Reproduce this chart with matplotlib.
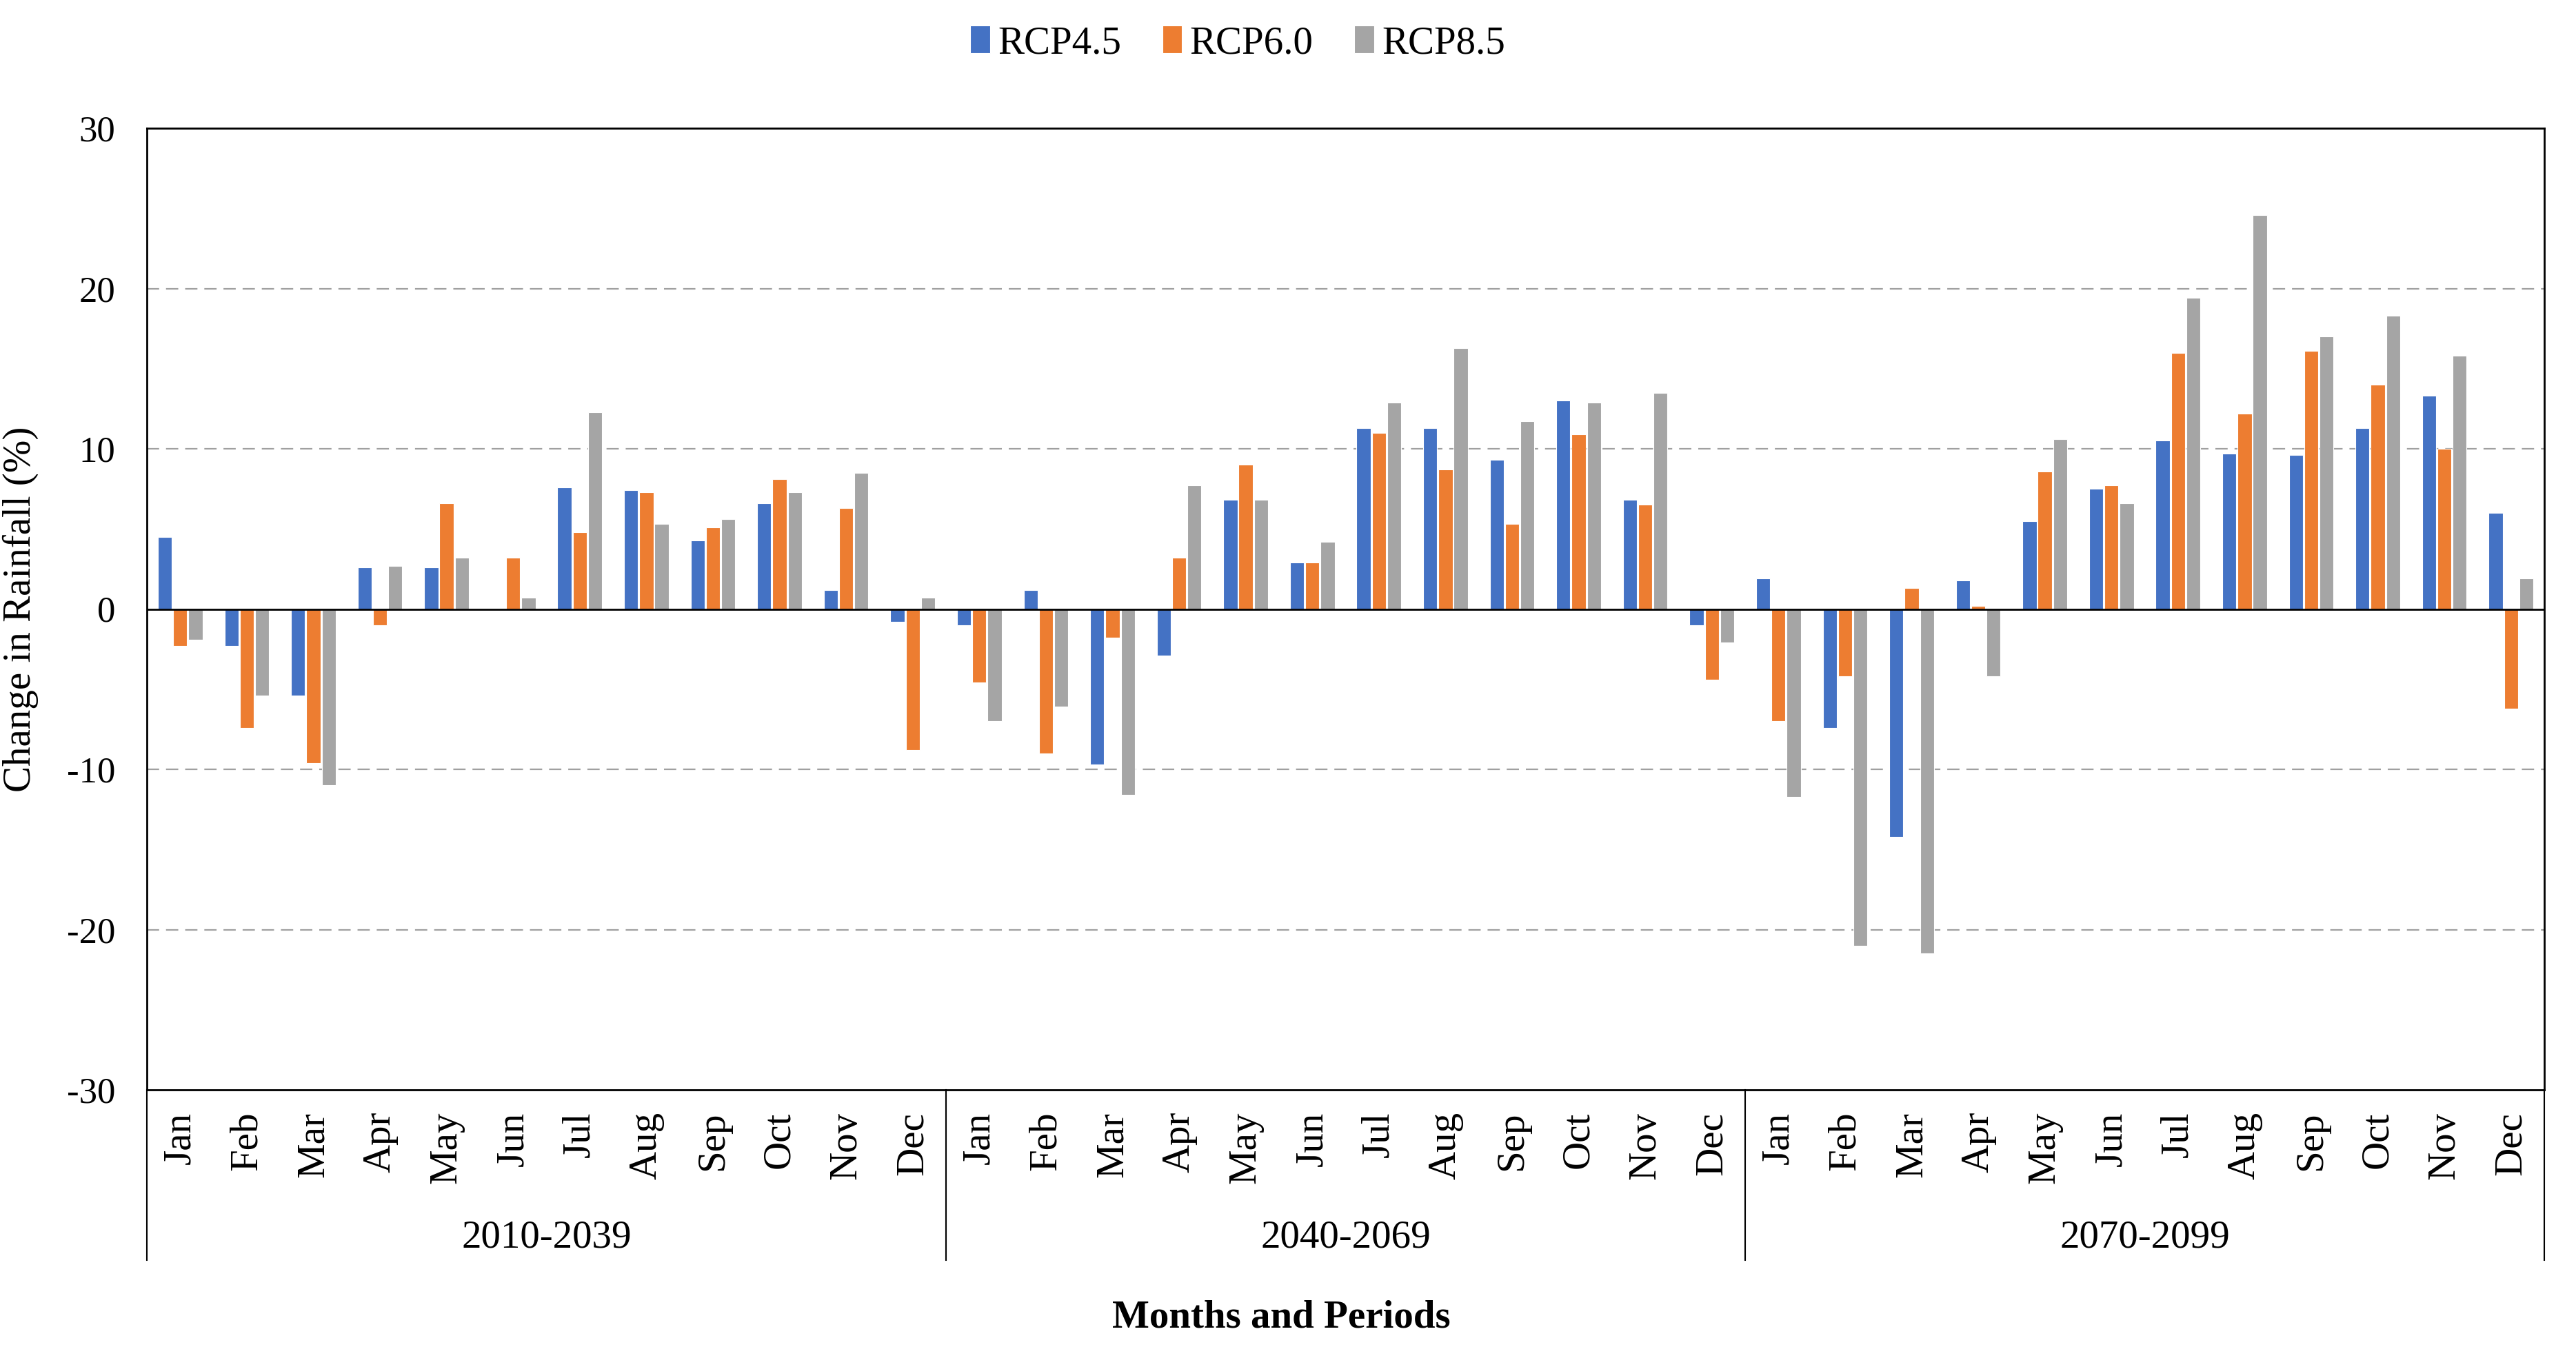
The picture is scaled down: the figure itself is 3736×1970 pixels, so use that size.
import matplotlib
matplotlib.use("Agg")
import matplotlib.pyplot as plt
import matplotlib.transforms as mtransforms
import numpy as np

plt.rcParams['font.family'] = ['Liberation Serif', 'DejaVu Serif']
plt.rcParams['axes.unicode_minus'] = False

months = ['Jan', 'Feb', 'Mar', 'Apr', 'May', 'Jun',
          'Jul', 'Aug', 'Sep', 'Oct', 'Nov', 'Dec']
periods = ['2010-2039', '2040-2069', '2070-2099']
series_names = ['RCP4.5', 'RCP6.0', 'RCP8.5']

rcp45 = [4.5, -2.3, -5.4, 2.6, 2.6, 0.0, 7.6, 7.4, 4.3, 6.6, 1.2, -0.8,
         -1.0, 1.2, -9.7, -2.9, 6.8, 2.9, 11.3, 11.3, 9.3, 13.0, 6.8, -1.0,
         1.9, -7.4, -14.2, 1.8, 5.5, 7.5, 10.5, 9.7, 9.6, 11.3, 13.3, 6.0]
rcp60 = [-2.3, -7.4, -9.6, -1.0, 6.6, 3.2, 4.8, 7.3, 5.1, 8.1, 6.3, -8.8,
         -4.6, -9.0, -1.8, 3.2, 9.0, 2.9, 11.0, 8.7, 5.3, 10.9, 6.5, -4.4,
         -7.0, -4.2, 1.3, 0.2, 8.6, 7.7, 16.0, 12.2, 16.1, 14.0, 10.0, -6.2]
rcp85 = [-1.9, -5.4, -11.0, 2.7, 3.2, 0.7, 12.3, 5.3, 5.6, 7.3, 8.5, 0.7,
         -7.0, -6.1, -11.6, 7.7, 6.8, 4.2, 12.9, 16.3, 11.7, 12.9, 13.5, -2.1,
         -11.7, -21.0, -21.5, -4.2, 10.6, 6.6, 19.4, 24.6, 17.0, 18.3, 15.8, 1.9]

colors = ['#4472C4', '#ED7D31', '#A5A5A5']

W, H = 3736, 1970
fig = plt.figure(figsize=(W / 100, H / 100), dpi=100)
ax = fig.add_axes([213 / W, 1 - 1581 / H, (3690 - 213) / W, (1581 - 186) / H])

n = len(months) * len(periods)
x = np.arange(n)
width = 0.21
offsets = [-0.23, 0.0, 0.23]
for vals, off, c, name in zip([rcp45, rcp60, rcp85], offsets, colors, series_names):
    ax.bar(x + off, vals, width=width, color=c, label=name, zorder=3,
           edgecolor='white', linewidth=0.8)

ax.set_xlim(-0.5, n - 0.5)
ax.set_ylim(-30, 30)
ax.set_yticks([-30, -20, -10, 0, 10, 20, 30])
ax.tick_params(axis='y', length=0, pad=33, labelsize=38)
for yv in [-20, -10, 10, 20]:
    ax.axhline(yv, color='#A0A0A0', lw=1.6, ls=(0, (8, 4.5)), zorder=1)
ax.axhline(0, color='black', lw=2, zorder=4)

ax.set_xticks(x)
ax.set_xticklabels(months * len(periods), rotation=90, fontsize=41)
ax.tick_params(axis='x', length=0, pad=23)

for s in ax.spines.values():
    s.set_linewidth(2)
    s.set_color('black')

trans = mtransforms.blended_transform_factory(ax.transData, ax.transAxes)
bottom = (1581 - 1828) / (1581 - 186)
for b in [-0.5, 11.5, 23.5, 35.5]:
    ax.plot([b, b], [0, bottom], color='black', lw=1.5, transform=trans, clip_on=False)
lab_y = (1581 - 1795) / (1581 - 186)
for i, p in enumerate(periods):
    ax.text(i * 12 + 5.5, lab_y, p, transform=trans, ha='center', va='center', fontsize=41)

ax.set_ylabel('Change in Rainfall (%)', fontsize=41)
ax.yaxis.set_label_coords((56 - 213) / (3690 - 213), 0.5)

fig.text(1858 / W, 1 - 1912 / H, 'Months and Periods', ha='center', va='center',
         fontsize=41, fontweight='bold')

fig.legend(loc='center', bbox_to_anchor=(1795 / W, 1 - 63 / H), ncol=3, frameon=False,
           fontsize=41, handlelength=0.5, handleheight=0.7, handletextpad=0.2,
           columnspacing=1.05)

fig.savefig('out.png', dpi=100)
